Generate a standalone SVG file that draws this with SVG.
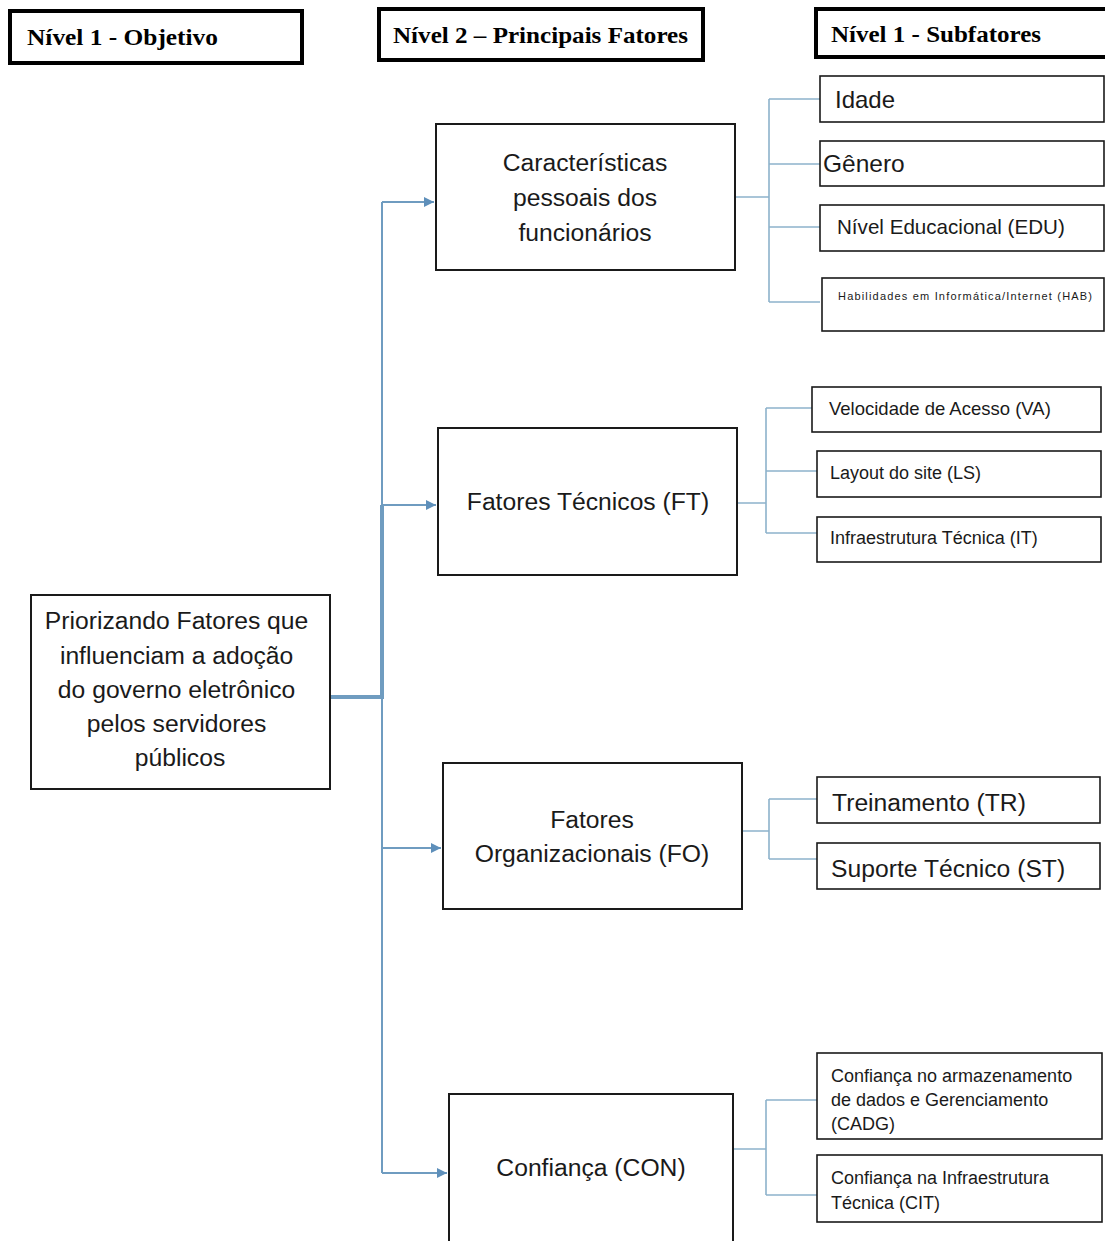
<svg xmlns="http://www.w3.org/2000/svg" width="1105" height="1241" viewBox="0 0 1105 1241">
<style>
.hdr{fill:#fff;stroke:#000;stroke-width:4}
.hdrt{font-family:"Liberation Serif",serif;font-weight:bold;font-size:24px;fill:#000}
.box{fill:#fff;stroke:#1a1a1a;stroke-width:2}
.sub{fill:#fff;stroke:#1a1a1a;stroke-width:1.6}
.t{font-family:"Liberation Sans",Arial,sans-serif;fill:#1a1a1a}
.big{font-size:24.7px}
.sm{font-size:18px}
.tr{fill:none;stroke:#6f9cc0;stroke-width:2}
.br{fill:none;stroke:#8db2cb;stroke-width:1.6}
</style>
<defs>
<marker id="arr" viewBox="0 0 10 10" refX="10" refY="5" markerWidth="5" markerHeight="5" markerUnits="strokeWidth" orient="auto">
<path d="M0,0 L10,5 L0,10 z" fill="#5e8fba"/>
</marker>
</defs>
<rect width="1105" height="1241" fill="#fff"/>

<g id="headers">
<g id="h1"><rect class="hdr" x="10" y="11" width="292" height="52"/><text class="hdrt" x="27" y="45" textLength="191" lengthAdjust="spacingAndGlyphs">Nível 1 - Objetivo</text></g>
<g id="h2"><rect class="hdr" x="379" y="9" width="324" height="51"/><text class="hdrt" x="393" y="43" textLength="295" lengthAdjust="spacingAndGlyphs">Nível 2 – Principais Fatores</text></g>
<g id="h3"><rect class="hdr" x="816" y="9" width="295" height="48"/><text class="hdrt" x="831" y="42" textLength="210" lengthAdjust="spacingAndGlyphs">Nível 1 - Subfatores</text></g>
</g>

<g id="connectors">
<path class="tr" d="M382,202 V1173"/>
<path fill="none" stroke="#6f9cc0" stroke-width="4" d="M330,697 H382 V505"/>
<path class="tr" d="M382,202 H434" marker-end="url(#arr)"/>
<path class="tr" d="M382,505 H436" marker-end="url(#arr)"/>
<path class="tr" d="M382,848 H441" marker-end="url(#arr)"/>
<path class="tr" d="M382,1173 H447" marker-end="url(#arr)"/>
<path class="br" d="M736,197 H769 M769,99 V302 M769,99 H820 M769,164 H820 M769,227 H820 M769,302 H820"/>
<path class="br" d="M737,503 H766 M766,408 V533 M766,408 H812 M766,471 H817 M766,533 H817"/>
<path class="br" d="M742,831 H769 M769,799 V859 M769,799 H817 M769,859 H817"/>
<path class="br" d="M733,1149 H766 M766,1100 V1195 M766,1100 H817 M766,1195 H817"/>
</g>

<g id="goal"><rect class="box" x="31" y="595" width="299" height="194"/>
<text class="t big" text-anchor="middle" x="180">
<tspan x="180" y="629">Priorizando Fatores que</tspan>
<tspan x="180" y="664">influenciam a adoção</tspan>
<tspan x="180" y="698">do governo eletrônico</tspan>
<tspan x="180" y="732">pelos servidores</tspan>
<tspan x="180" y="766">públicos</tspan></text></g>

<g id="cp"><rect class="box" x="436" y="124" width="299" height="146"/>
<text class="t big" text-anchor="middle"><tspan x="585" y="171">Características</tspan><tspan x="585" y="206">pessoais dos</tspan><tspan x="585" y="241">funcionários</tspan></text></g>
<g id="ft"><rect class="box" x="438" y="428" width="299" height="147"/>
<text class="t big" text-anchor="middle" x="588" y="510">Fatores Técnicos (FT)</text></g>
<g id="fo"><rect class="box" x="443" y="763" width="299" height="146"/>
<text class="t big" text-anchor="middle"><tspan x="592" y="828">Fatores</tspan><tspan x="592" y="862">Organizacionais (FO)</tspan></text></g>
<g id="con"><rect class="box" x="449" y="1094" width="284" height="152"/>
<text class="t big" text-anchor="middle" x="591" y="1176">Confiança (CON)</text></g>

<g id="idade"><rect class="sub" x="820" y="76" width="284" height="46"/><text class="t" font-size="24" x="835" y="108">Idade</text></g>
<g id="genero"><rect class="sub" x="820" y="141" width="284" height="45"/><text class="t" font-size="24.5" x="823" y="172">Gênero</text></g>
<g id="edu"><rect class="sub" x="820" y="205" width="284" height="46"/><text class="t" font-size="20.6" x="837" y="234">Nível Educacional (EDU)</text></g>
<g id="hab"><rect class="sub" x="822" y="278" width="282" height="53"/><text class="t" font-size="11" x="838" y="300" textLength="254" lengthAdjust="spacing">Habilidades em Informática/Internet (HAB)</text></g>

<g id="va"><rect class="sub" x="812" y="387" width="289" height="45"/><text class="t" font-size="18.5" x="829" y="415">Velocidade de Acesso (VA)</text></g>
<g id="ls"><rect class="sub" x="817" y="451" width="284" height="46"/><text class="t sm" x="830" y="479">Layout do site (LS)</text></g>
<g id="it"><rect class="sub" x="817" y="517" width="284" height="45"/><text class="t sm" x="830" y="544">Infraestrutura Técnica (IT)</text></g>

<g id="trn"><rect class="sub" x="817" y="777" width="283" height="46"/><text class="t big" x="832" y="811">Treinamento (TR)</text></g>
<g id="st"><rect class="sub" x="817" y="843" width="283" height="46"/><text class="t big" x="831" y="877">Suporte Técnico (ST)</text></g>

<g id="cadg"><rect class="sub" x="817" y="1053" width="285" height="86"/>
<text class="t sm"><tspan x="831" y="1082">Confiança no armazenamento</tspan><tspan x="831" y="1106">de dados e Gerenciamento</tspan><tspan x="831" y="1130">(CADG)</tspan></text></g>
<g id="cit"><rect class="sub" x="817" y="1155" width="285" height="67"/>
<text class="t sm"><tspan x="831" y="1184">Confiança na Infraestrutura</tspan><tspan x="831" y="1209">Técnica (CIT)</tspan></text></g>
</svg>
